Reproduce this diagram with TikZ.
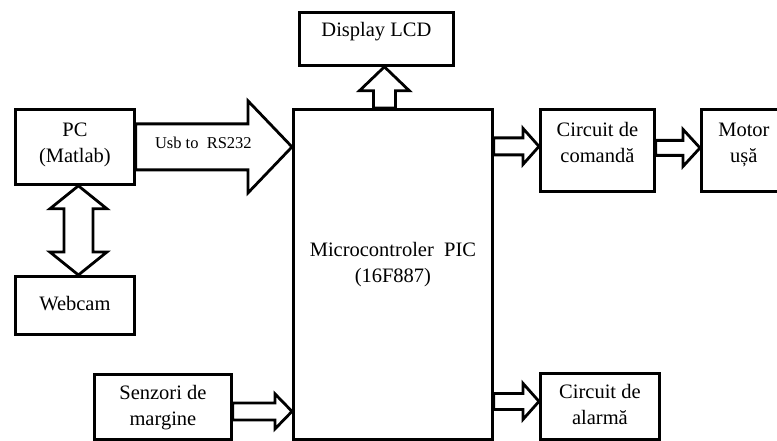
\documentclass[tikz,border=0pt]{standalone}
\usepackage{fontspec}
\setmainfont{Liberation Serif}
\usepackage{tikz}
\usetikzlibrary{positioning, calc}

\begin{document}
\begin{tikzpicture}[
  x=1pt, y=-1pt,
  box/.style={rectangle, draw, line width=2.8pt, inner sep=0pt, anchor=north west, align=center, font=\fontsize{20.5}{26}\selectfont},
  tag/.style={font=\fontsize{16.5}{20}\selectfont, inner sep=0pt},
  blk/.style={draw, line width=2.8pt, line join=miter},
  hblock/.style n args={3}{blk, to path={
    ($(\tikztostart)+(0,#1)$) -- ($(\tikztotarget)+(-#3,#1)$) -- ($(\tikztotarget)+(-#3,#2)$)
    -- (\tikztotarget) -- ($(\tikztotarget)+(-#3,-#2)$) -- ($(\tikztotarget)+(-#3,-#1)$)
    -- ($(\tikztostart)+(0,-#1)$) -- cycle}},
  vblock/.style n args={3}{blk, to path={
    ($(\tikztostart)+(#1,0)$) -- ($(\tikztotarget)+(#1,#3)$) -- ($(\tikztotarget)+(#2,#3)$)
    -- (\tikztotarget) -- ($(\tikztotarget)+(-#2,#3)$) -- ($(\tikztotarget)+(-#1,#3)$)
    -- ($(\tikztostart)+(-#1,0)$) -- cycle}},
  dblock/.style n args={3}{blk, to path={
    (\tikztostart) -- ($(\tikztostart)+(#2,#3)$) -- ($(\tikztostart)+(#1,#3)$)
    -- ($(\tikztotarget)+(#1,-#3)$) -- ($(\tikztotarget)+(#2,-#3)$) -- (\tikztotarget)
    -- ($(\tikztotarget)+(-#2,-#3)$) -- ($(\tikztotarget)+(-#1,-#3)$)
    -- ($(\tikztostart)+(-#1,#3)$) -- ($(\tikztostart)+(-#2,#3)$) -- cycle}}
]
\path[use as bounding box, fill=white] (0,0) rectangle (777,441);
\node[box, minimum width=119pt, minimum height=75pt, text height=53pt, text depth=22pt] (pc) at (14,108) {PC\\(Matlab)};
\node[box, minimum width=119pt, minimum height=58pt, text height=34pt, text depth=24pt] (cam) at (14,275) {Webcam};
\node[box, minimum width=154pt, minimum height=53pt, text height=24pt, text depth=29pt] (lcd) at (298,11) {Display LCD};
\node[box, minimum width=199pt, minimum height=330pt, text height=173pt, text depth=157pt] (mcu) at (292,108) {Microcontroler~ PIC\\(16F887)};
\node[box, minimum width=114pt, minimum height=82pt, text height=53pt, text depth=29pt] (cmd) at (539,108) {Circuit de\\comandă};
\node[box, minimum width=85pt, minimum height=82pt, text height=53pt, text depth=29pt] (mot) at (700,108) {Motor\\ușă};
\node[box, minimum width=137pt, minimum height=65pt, text height=51pt, text depth=14pt] (sen) at (93,373) {Senzori de\\margine};
\node[box, minimum width=119pt, minimum height=66pt, text height=51pt, text depth=15pt] (alm) at (539,372) {Circuit de\\alarmă};
\node[tag, right=19pt of pc.east, yshift=4pt] (usb) {Usb to~ RS232};
\coordinate (usbin) at (mcu.west |- pc.east);
\coordinate (lcdin) at ([xshift=8pt]lcd.south);
\coordinate (lcdout) at (lcdin |- mcu.north);
\coordinate (pcend) at ([xshift=3.5pt]pc.south);
\coordinate (camend) at ([xshift=3.5pt]cam.north);
\coordinate (cmdin) at ([yshift=4pt]cmd.west);
\coordinate (cmdout) at (mcu.east |- cmdin);
\coordinate (motin) at ([yshift=2.5pt]mot.west);
\coordinate (motout) at (cmd.east |- motin);
\coordinate (almin) at ([yshift=5pt]alm.west);
\coordinate (almout) at (mcu.east |- almin);
\coordinate (senout) at ([yshift=-4.5pt]sen.east);
\coordinate (senin) at (mcu.west |- senout);
\draw[hblock={23}{46}{44}] (pc.east) to (usbin);
\draw[vblock={11}{25}{24}] (lcdout) to (lcdin);
\draw[dblock={14.5}{28.5}{23}] (pcend) to (camend);
\draw[hblock={8.5}{18}{16}] (cmdout) to (cmdin);
\draw[hblock={7.5}{18.5}{17}] (motout) to (motin);
\draw[hblock={8}{18}{16}] (almout) to (almin);
\draw[hblock={8.5}{17.5}{17}] (senout) to (senin);
\end{tikzpicture}
\end{document}
